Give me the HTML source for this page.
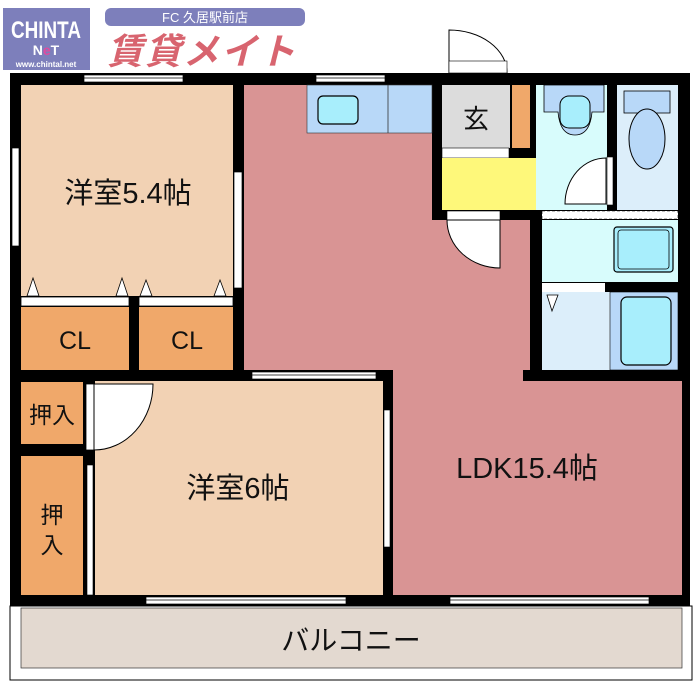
<!DOCTYPE html>
<html><head><meta charset="utf-8"><style>
body{margin:0;background:#fff;width:700px;height:700px;overflow:hidden}
svg{display:block}
text{font-family:"Liberation Sans","Noto Sans CJK JP",sans-serif}
</style></head><body>
<svg width="700" height="700" viewBox="0 0 700 700" xmlns="http://www.w3.org/2000/svg">
<!-- logos -->
<rect x="3" y="8" width="87" height="62" fill="#7d7fbb"/>
<text x="46" y="38" font-size="21" font-weight="bold" fill="#fff" text-anchor="middle" transform="translate(46,0) scale(0.9,1.15) translate(-46,-5)">CHINTA</text>
<text x="46" y="55" font-size="14" font-weight="bold" fill="#fff" text-anchor="middle">N<tspan fill="#e04aa0">e</tspan>T</text>
<text x="46" y="67" font-size="8" font-weight="bold" fill="#fff" text-anchor="middle">www.chintal.net</text>
<rect x="105" y="8" width="200" height="18" rx="6" fill="#7d7fbb"/>
<text x="205" y="22" font-size="13" fill="#fff" text-anchor="middle">FC 久居駅前店</text>
<text x="202" y="64" font-size="36" font-weight="bold" font-style="italic" fill="#d8646f" text-anchor="middle" letter-spacing="2">賃貸メイト</text>

<!-- walls base -->
<rect x="10" y="73" width="680" height="533" fill="#000"/>
<!-- balcony -->
<rect x="10" y="606" width="682" height="74" fill="#fff" stroke="#000" stroke-width="1"/>
<rect x="21" y="608" width="661" height="60" fill="#e3d9d0" stroke="#333" stroke-width="0.7"/>
<text x="351" y="650" font-size="28" fill="#111" text-anchor="middle">バルコニー</text>

<!-- 洋室5.4 -->
<rect x="21" y="85" width="212" height="211" fill="#f2d2b4"/>
<text x="128" y="203" font-size="29" fill="#111" text-anchor="middle">洋室5.4帖</text>
<g fill="#fff" stroke="#000" stroke-width="0.8">
<polygon points="27,296 33,278 39,296"/><polygon points="116,296 122,278 128,296"/>
<polygon points="140,296 146,280 152,296"/><polygon points="214,296 220,280 226,296"/>
<rect x="21" y="297" width="108" height="9"/><rect x="139" y="297" width="94" height="9"/>
</g>
<!-- CL -->
<rect x="21" y="307" width="108" height="63" fill="#f0a86a"/>
<rect x="139" y="307" width="94" height="63" fill="#f0a86a"/>
<text x="75" y="349" font-size="25" fill="#111" text-anchor="middle">CL</text>
<text x="187" y="349" font-size="25" fill="#111" text-anchor="middle">CL</text>
<!-- 押入 -->
<rect x="21" y="382" width="62" height="62" fill="#f0a86a"/>
<rect x="21" y="456" width="62" height="139" fill="#f0a86a"/>
<text x="52" y="423" font-size="23" fill="#111" text-anchor="middle">押入</text>
<text x="52" y="523" font-size="23" fill="#111" text-anchor="middle">押</text>
<text x="52" y="553" font-size="23" fill="#111" text-anchor="middle">入</text>
<!-- 洋室6 -->
<rect x="95" y="381" width="288" height="214" fill="#f2d2b4"/>
<rect x="86" y="384" width="8" height="66" fill="#fff" stroke="#000" stroke-width="0.8"/>
<path d="M94,384 L153,384 A59,66 0 0 1 94,450 Z" fill="#fff" stroke="#000" stroke-width="1"/>
<rect x="87" y="465" width="6" height="130" fill="#fff" stroke="#000" stroke-width="0.6"/>
<text x="238" y="498" font-size="29" fill="#111" text-anchor="middle">洋室6帖</text>

<!-- LDK -->
<path d="M244,85 L432,85 L432,220 L530,220 L530,370 L400,370 L400,381 L393,381 L393,370 L244,370 Z" fill="#d99494"/>
<rect x="393" y="381" width="289" height="214" fill="#d99494"/>
<rect x="400" y="370" width="123" height="11" fill="#d99494"/>
<text x="527" y="478" font-size="29" fill="#111" text-anchor="middle">LDK15.4帖</text>
<rect x="384" y="410" width="6" height="137" fill="#fff" stroke="#000" stroke-width="0.6"/>
<!-- kitchen -->
<rect x="307" y="85" width="125" height="48" fill="#b8d8f8" stroke="#333" stroke-width="0.6"/>
<line x1="388" y1="85" x2="388" y2="133" stroke="#333" stroke-width="0.8"/>
<rect x="318" y="96" width="40" height="28" rx="5" fill="#a8eefc" stroke="#000" stroke-width="1.2"/>

<!-- entrance -->
<rect x="442" y="85" width="68" height="63" fill="#dcdcdc"/>
<text x="476" y="128" font-size="26" fill="#111" text-anchor="middle">玄</text>
<rect x="512" y="85" width="18" height="63" fill="#f0a86a"/>
<rect x="442" y="148" width="67" height="10" fill="#fff" stroke="#000" stroke-width="0.6"/>
<rect x="442" y="158" width="94" height="52" fill="#fef87a"/>
<path d="M449,73 L449,30 A58,43 0 0 1 507,73" fill="#fff" stroke="#000" stroke-width="1"/>
<rect x="449" y="61" width="58" height="12" fill="#fff" stroke="#000" stroke-width="0.6"/>
<rect x="447" y="211" width="53" height="9" fill="#fff" stroke="#000" stroke-width="0.6"/>
<path d="M500,220 L500,268 A53,48 0 0 1 447,220 Z" fill="#fff" stroke="#000" stroke-width="1"/>

<!-- washroom -->
<rect x="536" y="85" width="71" height="125" fill="#d8fcfc"/>
<path d="M544,85 L604,85 L604,112 L592,112 Q590,135 575,135 Q560,135 558,112 L544,112 Z" fill="#b8d8f8" stroke="#000" stroke-width="0.8"/>
<rect x="560" y="96" width="30" height="32" rx="9" fill="#a8eefc" stroke="#000" stroke-width="1"/>
<path d="M606,158 L606,204 L565,204 A41,46 0 0 1 606,158 Z" fill="#fff" stroke="#000" stroke-width="1"/>
<rect x="607" y="157" width="6" height="48" fill="#fff" stroke="#000" stroke-width="0.6"/>
<!-- toilet -->
<rect x="617" y="85" width="61" height="125" fill="#dceefa"/>
<rect x="624" y="91" width="46" height="22" fill="#b8d8f8" stroke="#000" stroke-width="0.8"/>
<ellipse cx="647" cy="139" rx="18" ry="30" fill="#b8d8f8" stroke="#000" stroke-width="1"/>
<!-- bath -->
<rect x="542" y="211" width="136" height="8" fill="#fff" stroke="#000" stroke-width="0.6" stroke-dasharray="3,2"/>
<rect x="542" y="220" width="136" height="62" fill="#d8fcfc"/>
<rect x="614" y="227" width="59" height="45" rx="3" fill="#a8eefc" stroke="#000" stroke-width="1.2"/>
<rect x="618" y="230" width="51" height="39" rx="3" fill="none" stroke="#000" stroke-width="0.8"/>
<rect x="542" y="283" width="63" height="9" fill="#fff"/>
<rect x="542" y="292" width="68" height="78" fill="#dceefa"/>
<polygon points="547,295 558,295 552,311" fill="#fff" stroke="#000" stroke-width="0.8"/>
<rect x="610" y="292" width="68" height="78" fill="#b8d8f8" stroke="#000" stroke-width="0.6"/>
<rect x="621" y="297" width="50" height="68" rx="6" fill="#a8eefc" stroke="#000" stroke-width="1.2"/>

<!-- windows -->
<g fill="#fff" stroke="#000" stroke-width="0.7">
<rect x="84" y="75" width="99" height="7"/><rect x="316" y="75" width="69" height="7"/>
<rect x="12" y="148" width="7" height="98"/><rect x="234" y="172" width="8" height="116"/>
<rect x="252" y="372" width="124" height="7"/>
<rect x="146" y="597" width="200" height="7"/><rect x="450" y="597" width="199" height="7"/>
</g>
<g stroke="#000" stroke-width="0.7">
<line x1="84" y1="78" x2="183" y2="78"/><line x1="316" y1="78" x2="385" y2="78"/>
<line x1="146" y1="600" x2="346" y2="600"/><line x1="450" y1="600" x2="649" y2="600"/>
<line x1="252" y1="375" x2="376" y2="375"/>
</g>
</svg>
</body></html>
